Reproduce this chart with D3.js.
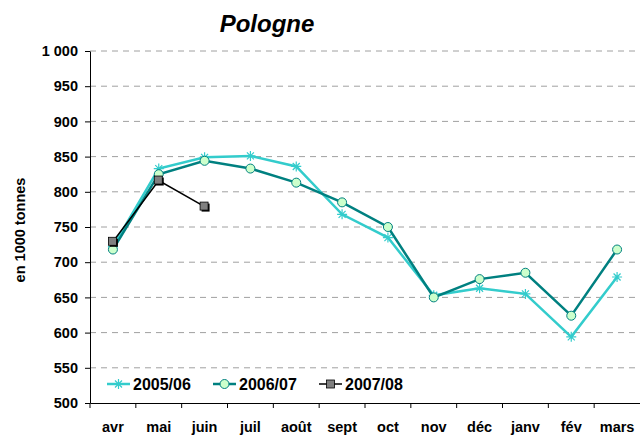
<!DOCTYPE html>
<html>
<head>
<meta charset="utf-8">
<script src="https://cdn.jsdelivr.net/npm/d3@7"></script>
<style>
  body { margin: 0; background: #fff; }
  text { font-family: Arial, "Liberation Sans", sans-serif; }
</style>
</head>
<body>
<div id="chart"></div>
<script>
// data
const months = ["avr", "mai", "juin", "juil", "août", "sept", "oct", "nov", "déc", "janv", "fév", "mars"];
const s0506 = [722, 833, 849, 851, 836, 768, 735, 653, 663, 655, 594, 679];
const s0607 = [718, 825, 844, 833, 813, 785, 750, 650, 676, 685, 624, 718];
const s0708 = [729, 816, 779];
const yTicks = [500, 550, 600, 650, 700, 750, 800, 850, 900, 950, 1000];

const W = 640, H = 436;
const margin = { top: 51, right: 0, bottom: 33, left: 90 };
const width = W - margin.left - margin.right;
const height = H - margin.top - margin.bottom;

const svg = d3.select("#chart").append("svg")
    .attr("width", W)
    .attr("height", H);

const g = svg.append("g")
    .attr("transform", `translate(${margin.left},${margin.top})`);

const x = d3.scaleBand().domain(months).range([0, width]);
const y = d3.scaleLinear().domain([500, 1000]).range([height, 0]);
const fmt = v => v >= 1000 ? "1 000" : String(v);

// title
svg.append("text")
    .attr("x", 267).attr("y", 32)
    .attr("text-anchor", "middle")
    .style("font-size", "24px")
    .style("font-weight", "bold")
    .style("font-style", "italic")
    .text("Pologne");

// y label
svg.append("text")
    .attr("transform", `translate(25,230) rotate(-90)`)
    .attr("text-anchor", "middle")
    .style("font-size", "14.5px")
    .style("font-weight", "bold")
    .text("en 1000 tonnes");

// grid
g.selectAll(".grid")
    .data(yTicks.filter(d => d > 500))
    .enter().append("line")
    .attr("x1", 0).attr("x2", width)
    .attr("y1", d => y(d)).attr("y2", d => y(d))
    .attr("stroke", "#a0a0a0")
    .attr("stroke-dasharray", "6,5");

// axes
const yAxis = g.append("g")
    .call(d3.axisLeft(y).tickValues(yTicks).tickFormat(fmt).tickSize(5).tickSizeOuter(0));
yAxis.select(".domain").attr("stroke", "#000");
yAxis.selectAll("text").style("font-size", "14.5px").style("font-weight", "bold").attr("dx", "-4");

const xAxis = g.append("g")
    .attr("transform", `translate(0,${height})`)
    .call(d3.axisBottom(x).tickSize(0).tickSizeOuter(0));
xAxis.selectAll("text").style("font-size", "14.5px").style("font-weight", "bold")
    .attr("y", 0).attr("dy", "29px");
xAxis.select(".domain").attr("stroke", "#000");
// boundary ticks between categories
xAxis.selectAll(".bt")
    .data(months)
    .enter().append("line")
    .attr("x1", d => x(d)).attr("x2", d => x(d))
    .attr("y1", 0).attr("y2", 5)
    .attr("stroke", "#000");

const line = d3.line()
    .x((d, i) => x(months[i]) + x.bandwidth() / 2)
    .y(d => y(d));

const cx = (d, i) => x(months[i]) + x.bandwidth() / 2;

function star(sel, size) {
    const r = size;
    sel.each(function (d, i) {
        const px = cx(d, i), py = y(d);
        const path = `M${px - r},${py}L${px + r},${py}` +
            `M${px - r * 0.7},${py - r * 0.7}L${px + r * 0.7},${py + r * 0.7}` +
            `M${px - r * 0.7},${py + r * 0.7}L${px + r * 0.7},${py - r * 0.7}` +
            `M${px},${py - r}L${px},${py + r}`;
        d3.select(this).attr("d", path);
    });
}

// 2005/06
g.append("path").datum(s0506)
    .attr("d", line).attr("fill", "none")
    .attr("stroke", "#33CCCC").attr("stroke-width", 2.5);
g.selectAll(".m0506").data(s0506).enter().append("path")
    .attr("stroke", "#33CCCC").attr("stroke-width", 1.2).call(star, 5);

// 2006/07
g.append("path").datum(s0607)
    .attr("d", line).attr("fill", "none")
    .attr("stroke", "#008080").attr("stroke-width", 2.5);
g.selectAll(".m0607").data(s0607).enter().append("circle")
    .attr("cx", cx).attr("cy", d => y(d)).attr("r", 4.5)
    .attr("fill", "#CCFFCC").attr("stroke", "#008080").attr("stroke-width", 1);

// 2007/08
g.append("path").datum(s0708)
    .attr("d", line).attr("fill", "none")
    .attr("stroke", "#000").attr("stroke-width", 1.5);
g.selectAll(".m0708s").data(s0708).enter().append("rect")
    .attr("x", (d, i) => cx(d, i) - 3).attr("y", d => y(d) - 3)
    .attr("width", 8).attr("height", 8).attr("fill", "#000");
g.selectAll(".m0708").data(s0708).enter().append("rect")
    .attr("x", (d, i) => cx(d, i) - 4.5).attr("y", d => y(d) - 4.5)
    .attr("width", 8).attr("height", 8)
    .attr("fill", "#808080").attr("stroke", "#000").attr("stroke-width", 0.8);

// legend
const legend = [
    { name: "2005/06", color: "#33CCCC", mark: "star", x: 107 },
    { name: "2006/07", color: "#008080", mark: "circle", x: 213 },
    { name: "2007/08", color: "#000", mark: "square", x: 319 }
];
const ly = 384;
legend.forEach(l => {
    const lg = svg.append("g");
    lg.append("line").attr("x1", l.x).attr("x2", l.x + 23).attr("y1", ly).attr("y2", ly)
        .attr("stroke", l.color).attr("stroke-width", l.mark === "square" ? 1.5 : 2.5);
    const mx = l.x + 11.5;
    if (l.mark === "star") {
        lg.append("path")
            .attr("d", `M${mx - 5},${ly}L${mx + 5},${ly}M${mx},${ly - 5}L${mx},${ly + 5}` +
                `M${mx - 3.5},${ly - 3.5}L${mx + 3.5},${ly + 3.5}M${mx - 3.5},${ly + 3.5}L${mx + 3.5},${ly - 3.5}`)
            .attr("stroke", l.color).attr("stroke-width", 1.2);
    } else if (l.mark === "circle") {
        lg.append("circle").attr("cx", mx).attr("cy", ly).attr("r", 4.5)
            .attr("fill", "#CCFFCC").attr("stroke", "#008080");
    } else {
        lg.append("rect").attr("x", mx - 4).attr("y", ly - 4).attr("width", 8).attr("height", 8)
            .attr("fill", "#808080").attr("stroke", "#000").attr("stroke-width", 0.8);
    }
    lg.append("text").attr("x", l.x + 26).attr("y", ly + 6)
        .style("font-size", "16px").style("font-weight", "bold")
        .text(l.name);
});
</script>
</body>
</html>
